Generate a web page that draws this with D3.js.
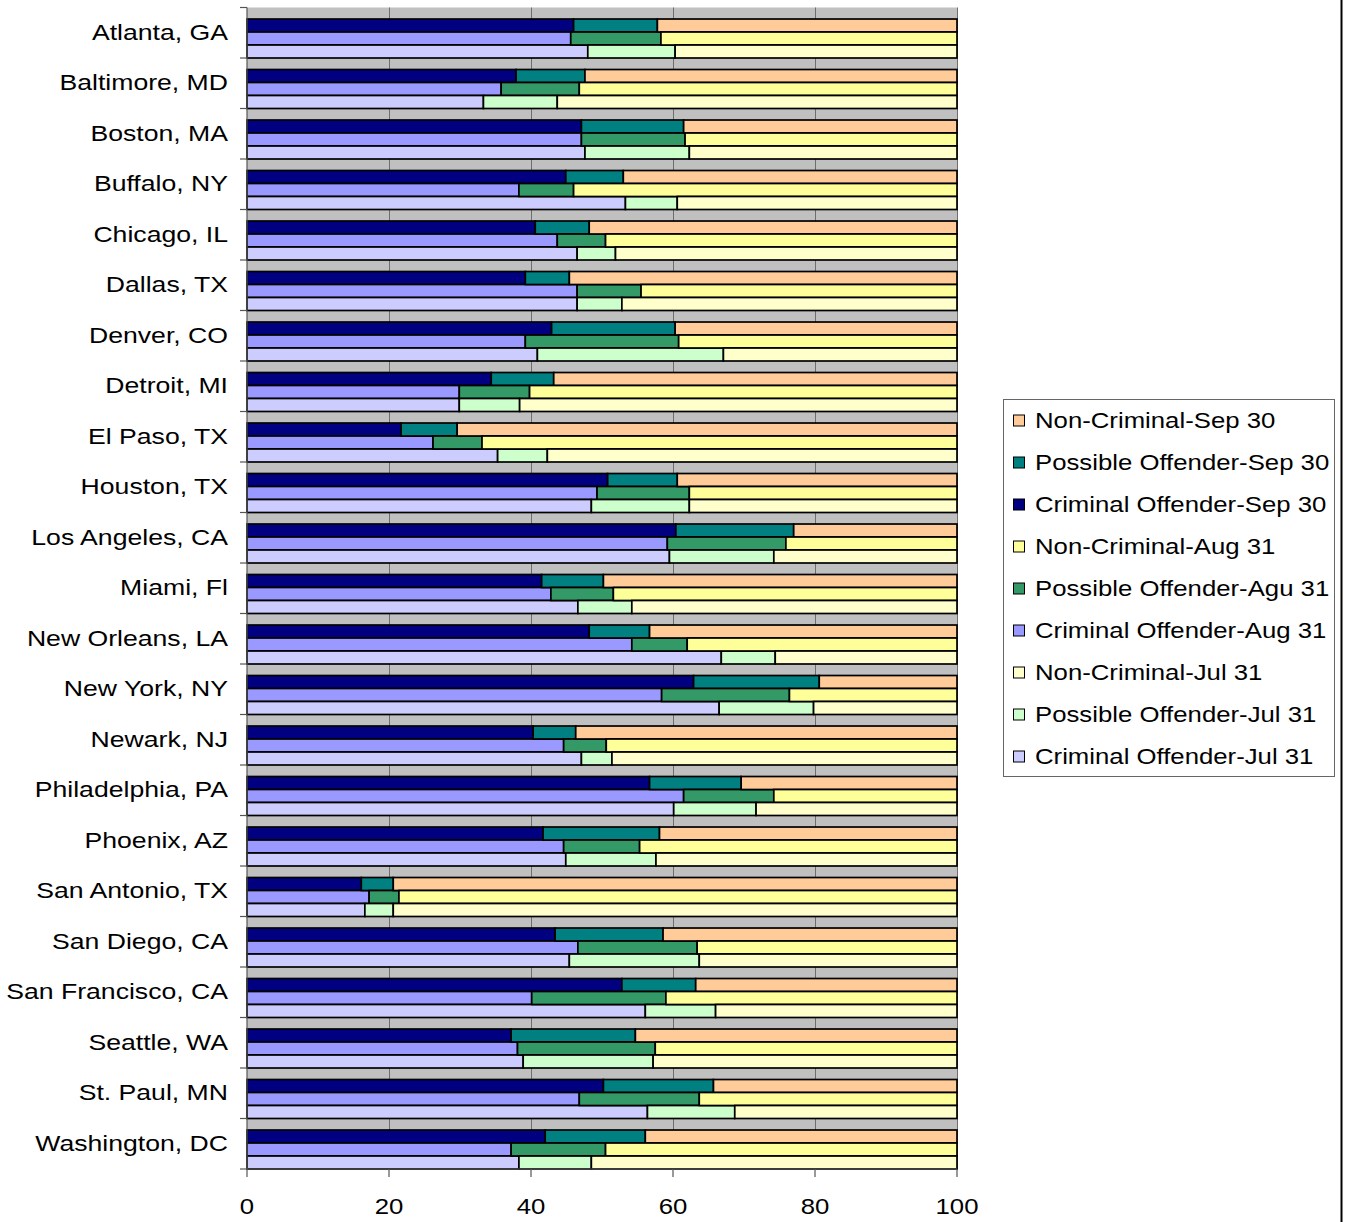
<!DOCTYPE html>
<html><head><meta charset="utf-8">
<script src="https://cdnjs.cloudflare.com/ajax/libs/d3/7.8.5/d3.min.js"></script>
<style>body{margin:0;background:#fff;} svg{display:block;}</style>
</head><body><svg id="c" width="1345" height="1222"></svg>
<script>
const cities = ["Atlanta, GA","Baltimore, MD","Boston, MA","Buffalo, NY","Chicago, IL","Dallas, TX","Denver, CO","Detroit, MI","El Paso, TX","Houston, TX","Los Angeles, CA","Miami, Fl","New Orleans, LA","New York, NY","Newark, NJ","Philadelphia, PA","Phoenix, AZ","San Antonio, TX","San Diego, CA","San Francisco, CA","Seattle, WA","St. Paul, MN","Washington, DC"];
const periods = ["Sep 30","Aug 31","Jul 31"];

const sepCriminal    = [46.0,37.9,47.1,44.9,40.6,39.2,42.9,34.4,21.7,50.8,60.4,41.5,48.2,62.9,40.3,56.7,41.7,16.1,43.4,52.8,37.2,50.2,42.0];
const sepPossible    = [11.8, 9.7,14.4, 8.1, 7.6, 6.2,17.4, 8.8, 7.9, 9.8,16.6, 8.7, 8.5,17.7, 6.0,12.9,16.4, 4.5,15.2,10.4,17.5,15.5,14.1];
const sepNonCriminal = [42.2,52.4,38.5,47.0,51.8,54.6,39.7,56.8,70.4,39.4,23.0,49.8,43.3,19.4,53.7,30.4,41.9,79.4,41.4,36.8,45.3,34.3,43.9];

const augCriminal    = [45.6,35.8,47.1,38.3,43.7,46.5,39.2,29.9,26.2,49.3,59.2,42.8,54.2,58.4,44.6,61.5,44.6,17.2,46.6,40.1,38.1,46.8,37.2];
const augPossible    = [12.7,11.0,14.6, 7.7, 6.8, 9.0,21.6, 9.9, 6.9,13.0,16.7, 8.8, 7.8,18.0, 6.0,12.7,10.7, 4.2,16.8,18.9,19.4,16.9,13.3];
const augNonCriminal = [41.7,53.2,38.3,54.0,49.5,44.5,39.2,60.2,66.9,37.7,24.1,48.4,38.0,23.6,49.4,25.8,44.7,78.6,36.6,41.0,42.5,36.3,49.5];

const julCriminal    = [48.0,33.3,47.6,53.3,46.5,46.5,40.9,29.9,35.3,48.5,59.5,46.6,66.8,66.5,47.1,60.1,44.9,16.6,45.4,56.1,38.9,56.4,38.3];
const julPossible    = [12.3,10.4,14.7, 7.3, 5.4, 6.3,26.2, 8.5, 7.0,13.8,14.7, 7.6, 7.6,13.3, 4.3,11.6,12.7, 4.0,18.3, 9.9,18.3,12.3,10.2];
const julNonCriminal = [39.7,56.3,37.7,39.4,48.1,47.2,32.9,61.6,57.7,37.7,25.8,45.8,25.6,20.2,48.6,28.3,42.4,79.4,36.3,34.0,42.8,31.3,51.5];

const xTicks = [0,20,40,60,80,100];
const legendLabels = ["Non-Criminal-Sep 30","Possible Offender-Sep 30","Criminal Offender-Sep 30","Non-Criminal-Aug 31","Possible Offender-Agu 31","Criminal Offender-Aug 31","Non-Criminal-Jul 31","Possible Offender-Jul 31","Criminal Offender-Jul 31"];

const colors = {
  "Sep 30": {criminal:"#000080", possible:"#008080", noncriminal:"#FFCC99"},
  "Aug 31": {criminal:"#9999FF", possible:"#339966", noncriminal:"#FFFF99"},
  "Jul 31": {criminal:"#CCCCFF", possible:"#CCFFCC", noncriminal:"#FFFFCC"}
};
const legendColors = ["#FFCC99","#008080","#000080","#FFFF99","#339966","#9999FF","#FFFFCC","#CCFFCC","#CCCCFF"];

const seriesByPeriod = {
  "Sep 30": [sepCriminal, sepPossible, sepNonCriminal],
  "Aug 31": [augCriminal, augPossible, augNonCriminal],
  "Jul 31": [julCriminal, julPossible, julNonCriminal]
};

const rows = [];
cities.forEach((c,i) => periods.forEach(p => {
  const s = seriesByPeriod[p];
  rows.push({city:c, period:p, criminal:s[0][i], possible:s[1][i], noncriminal:s[2][i]});
}));

const keys = ["criminal","possible","noncriminal"];
const stacked = d3.stack().keys(keys)(rows);

const svg = d3.select("#c");
const FONT = "'Liberation Sans', Arial, sans-serif";
const SX = 1.17;
const SXC = 1.21;

const x = d3.scaleLinear().domain([0,100]).range([247,957]);
const y = d3.scaleBand().domain(cities).range([7.5,1169]).paddingInner(0).paddingOuter(0);
const yp = d3.scaleBand().domain(periods).range([y.bandwidth()*0.228, y.bandwidth()]).padding(0);

// background
svg.append("rect").attr("x", x(0)).attr("y", 7.5).attr("width", x(100)-x(0)).attr("height", 1169-7.5).attr("fill","#C0C0C0");

// gridlines
svg.append("g").selectAll("line").data(xTicks.filter(v=>v>0)).join("line")
  .attr("x1", d=>x(d)+0.5).attr("x2", d=>x(d)+0.5).attr("y1", 7.5).attr("y2", 1169)
  .attr("stroke", "#6e6e6e").attr("stroke-width", 1);

// bars
const g = svg.append("g");
stacked.forEach(layer => {
  g.append("g").selectAll("rect").data(layer).join("rect")
    .attr("x", d => x(d[0]))
    .attr("width", d => x(d[1]) - x(d[0]))
    .attr("y", d => y(d.data.city) + yp(d.data.period))
    .attr("height", yp.bandwidth())
    .attr("fill", d => colors[d.data.period][layer.key])
    .attr("stroke", "#000").attr("stroke-width", 1.7);
});

// left axis
const axisG = svg.append("g");
axisG.append("line").attr("x1", x(0)).attr("x2", x(0)).attr("y1", 7.5).attr("y2", 1169).attr("stroke","#555").attr("stroke-width",1.2);
const bounds = cities.map(c => y(c)).concat([1169]);
axisG.selectAll("line.yt").data(bounds).join("line").attr("class","yt")
  .attr("x1", x(0)-7).attr("x2", x(0)).attr("y1", d=>d).attr("y2", d=>d)
  .attr("stroke","#555").attr("stroke-width",1.2);
// bottom axis
axisG.append("line").attr("x1", x(0)).attr("x2", x(100)).attr("y1", 1169).attr("y2", 1169).attr("stroke","#555").attr("stroke-width",1.2);
axisG.selectAll("line.xt").data(xTicks).join("line").attr("class","xt")
  .attr("x1", d=>x(d)).attr("x2", d=>x(d)).attr("y1", 1169).attr("y2", 1177)
  .attr("stroke","#555").attr("stroke-width",1.2);

// city labels
svg.append("g").selectAll("text").data(cities).join("text")
  .attr("transform", d => `translate(228,${y(d)+y.bandwidth()/2}) scale(${SXC},1)`)
  .attr("text-anchor","end").attr("dy","0.32em")
  .attr("font-family", FONT).attr("font-size", 22).attr("fill","#000")
  .text(d=>d);

// x tick labels
svg.append("g").selectAll("text").data(xTicks).join("text")
  .attr("transform", d => `translate(${x(d)},1206) scale(${SX},1)`)
  .attr("text-anchor","middle").attr("dy","0.36em")
  .attr("font-family", FONT).attr("font-size", 22).attr("fill","#000")
  .text(d=>d);

// legend
const lg = svg.append("g");
lg.append("rect").attr("x",1003.5).attr("y",399.5).attr("width",331).attr("height",377)
  .attr("fill","#fff").attr("stroke","#666").attr("stroke-width",1);
const li = lg.selectAll("g").data(legendLabels).join("g")
  .attr("transform", (d,i) => `translate(0,${420 + i*42})`);
li.append("rect").attr("x",1013.5).attr("y",-5).attr("width",11).attr("height",11)
  .attr("fill",(d,i)=>legendColors[i]).attr("stroke","#000").attr("stroke-width",1);
li.append("text").attr("transform",`translate(1035,0) scale(${SX},1)`).attr("dy","0.36em")
  .attr("font-family", FONT).attr("font-size", 22).attr("fill","#000").text(d=>d);

// right border line
svg.append("line").attr("x1",1341.5).attr("x2",1341.5).attr("y1",0).attr("y2",1222).attr("stroke","#000").attr("stroke-width",2);
</script>
</body></html>
